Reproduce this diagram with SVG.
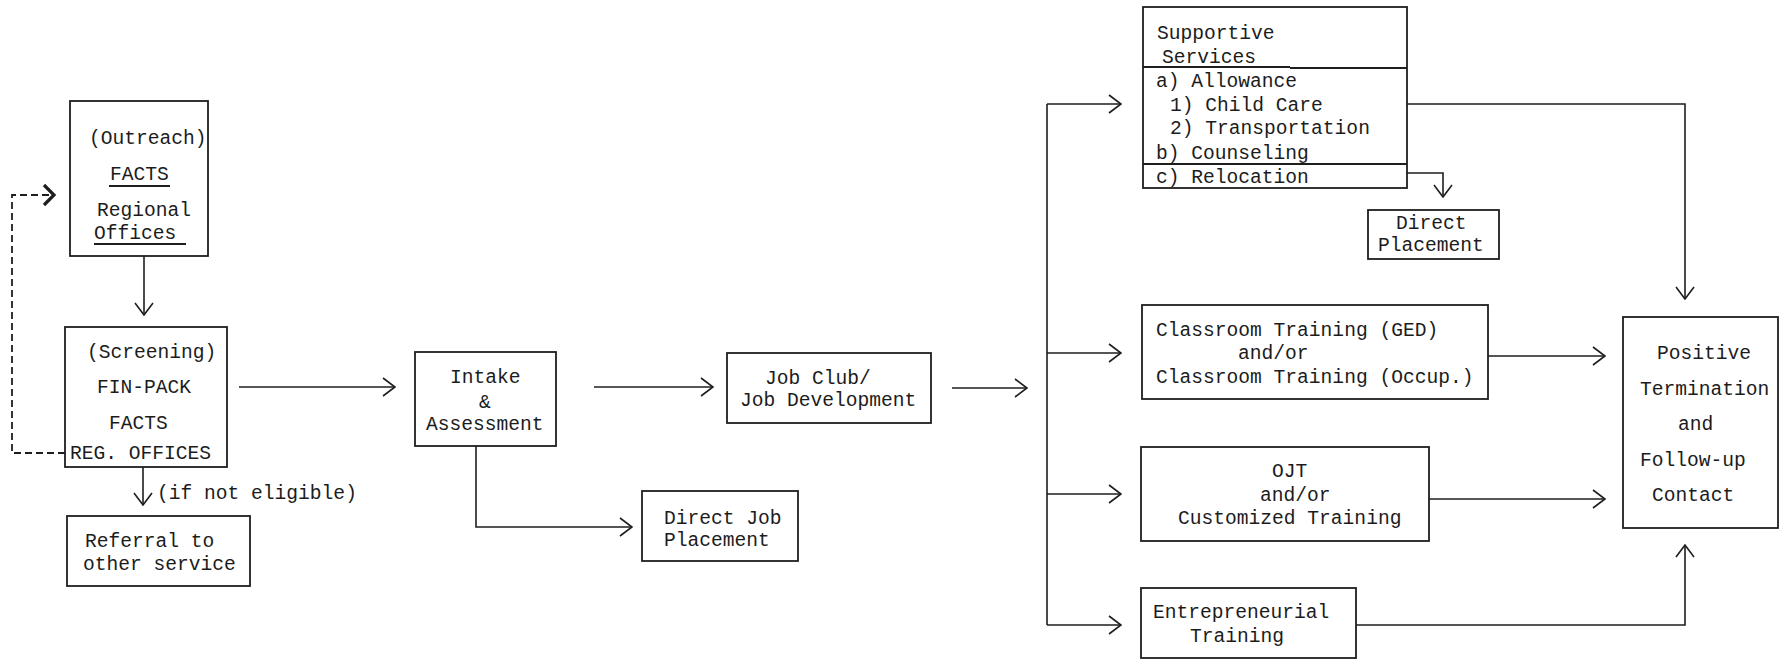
<svg xmlns="http://www.w3.org/2000/svg" width="1781" height="659" viewBox="0 0 1781 659">
<style>
.bg{fill:#ffffff}
.box{fill:none;stroke:#1e1e1e;stroke-width:1.8}
.ln{fill:none;stroke:#1e1e1e;stroke-width:1.6}
.dash{fill:none;stroke:#1e1e1e;stroke-width:1.8;stroke-dasharray:7 4}
.ul{stroke:#1e1e1e;stroke-width:1.8}
text{font-family:"Liberation Mono","DejaVu Sans Mono",monospace;font-size:19.6px;fill:#1c1c1c}
</style>
<defs>
<marker id="ah" viewBox="0 0 14 20" refX="13" refY="10" markerWidth="14" markerHeight="20" markerUnits="userSpaceOnUse" orient="auto">
<path d="M1,1 L13,10 L1,19" fill="none" stroke="#1e1e1e" stroke-width="1.6"/>
</marker>
<marker id="ahb" viewBox="0 0 14 24" refX="12" refY="12" markerWidth="14" markerHeight="24" markerUnits="userSpaceOnUse" orient="auto">
<path d="M2,2 L12,12 L2,22" fill="none" stroke="#1e1e1e" stroke-width="3.2"/>
</marker>
</defs>
<rect class="bg" x="0" y="0" width="1781" height="659"/>

<g id="connectors">
<path class="dash" d="M65,453 H12 V195 H54" marker-end="url(#ahb)"/>
<path class="ln" d="M144,256 V315" marker-end="url(#ah)"/>
<path class="ln" d="M143,467 V505" stroke-width="2.2" marker-end="url(#ah)"/>
<path class="ln" d="M239,387 H395" marker-end="url(#ah)"/>
<path class="ln" d="M594,387 H713" marker-end="url(#ah)"/>
<path class="ln" d="M476,446 V527 H632" marker-end="url(#ah)"/>
<path class="ln" d="M952,388 H1027" marker-end="url(#ah)"/>
<path class="ln" d="M1047,104 V625"/>
<path class="ln" d="M1047,104 H1121" marker-end="url(#ah)"/>
<path class="ln" d="M1047,353 H1121" marker-end="url(#ah)"/>
<path class="ln" d="M1047,494 H1121" marker-end="url(#ah)"/>
<path class="ln" d="M1047,625 H1121" marker-end="url(#ah)"/>
<path class="ln" d="M1407,173 H1443 V197" marker-end="url(#ah)"/>
<path class="ln" d="M1407,104 H1685 V299" stroke-width="2" marker-end="url(#ah)"/>
<path class="ln" d="M1488,356 H1605" marker-end="url(#ah)"/>
<path class="ln" d="M1429,499 H1605" stroke-width="2" marker-end="url(#ah)"/>
<path class="ln" d="M1356,625 H1685 V545" stroke-width="2" marker-end="url(#ah)"/>
</g>

<g id="outreach">
<rect class="box" x="70" y="101" width="138" height="155"/>
<text x="89" y="144">(Outreach)</text>
<text x="110" y="180">FACTS</text>
<line class="ul" x1="109" y1="186" x2="170" y2="186"/>
<text x="97" y="216">Regional</text>
<text x="94" y="239">Offices</text>
<line class="ul" x1="94" y1="244" x2="186" y2="244"/>
</g>

<g id="screening">
<rect class="box" x="65" y="327" width="162" height="140"/>
<text x="87" y="358">(Screening)</text>
<text x="97" y="393">FIN-PACK</text>
<text x="109" y="429">FACTS</text>
<text x="70" y="459">REG. OFFICES</text>
</g>

<g id="if-not-eligible">
<text x="157" y="499">(if not eligible)</text>
</g>

<g id="referral">
<rect class="box" x="67" y="516" width="183" height="70"/>
<text x="85" y="547">Referral to</text>
<text x="83" y="570">other service</text>
</g>

<g id="intake">
<rect class="box" x="415" y="352" width="141" height="94"/>
<text x="450" y="383">Intake</text>
<text x="479" y="408">&amp;</text>
<text x="426" y="430">Assessment</text>
</g>

<g id="jobclub">
<rect class="box" x="727" y="353" width="204" height="70"/>
<text x="765" y="384">Job Club/</text>
<text x="740" y="406">Job Development</text>
</g>

<g id="directjob">
<rect class="box" x="642" y="491" width="156" height="70"/>
<text x="664" y="524">Direct Job</text>
<text x="664" y="546">Placement</text>
</g>

<g id="supportive">
<rect class="box" x="1143" y="7" width="264" height="181"/>
<text x="1157" y="39">Supportive</text>
<text x="1162" y="63">Services</text>
<line class="ul" x1="1143" y1="67" x2="1290" y2="67" stroke-width="2.2"/>
<line class="ul" x1="1290" y1="68" x2="1407" y2="68" stroke-width="1.2"/>
<text x="1156" y="87">a) Allowance</text>
<text x="1170" y="111">1) Child Care</text>
<text x="1170" y="134">2) Transportation</text>
<text x="1156" y="159">b) Counseling</text>
<line class="ul" x1="1143" y1="164" x2="1407" y2="164"/>
<text x="1156" y="183">c) Relocation</text>
</g>

<g id="directplacement">
<rect class="box" x="1368" y="210" width="131" height="49"/>
<text x="1396" y="229">Direct</text>
<text x="1378" y="251">Placement</text>
</g>

<g id="classroom">
<rect class="box" x="1142" y="305" width="346" height="94"/>
<text x="1156" y="336">Classroom Training (GED)</text>
<text x="1238" y="359">and/or</text>
<text x="1156" y="383">Classroom Training (Occup.)</text>
</g>

<g id="ojt">
<rect class="box" x="1141" y="447" width="288" height="94"/>
<text x="1272" y="477">OJT</text>
<text x="1260" y="501">and/or</text>
<text x="1178" y="524">Customized Training</text>
</g>

<g id="entrepreneurial">
<rect class="box" x="1141" y="588" width="215" height="70"/>
<text x="1153" y="618">Entrepreneurial</text>
<text x="1190" y="642">Training</text>
</g>

<g id="positive">
<rect class="box" x="1623" y="317" width="155" height="211"/>
<text x="1657" y="359">Positive</text>
<text x="1640" y="395">Termination</text>
<text x="1678" y="430">and</text>
<text x="1640" y="466">Follow-up</text>
<text x="1652" y="501">Contact</text>
</g>
</svg>
